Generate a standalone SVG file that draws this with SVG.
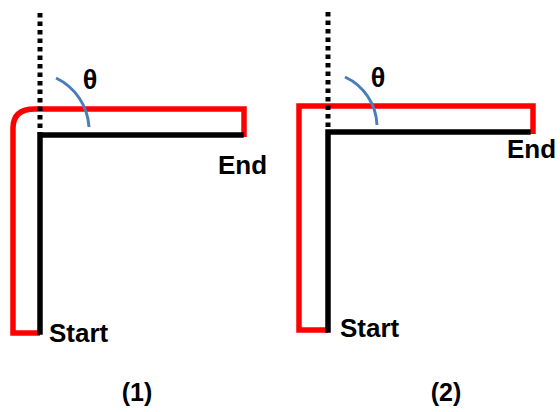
<svg xmlns="http://www.w3.org/2000/svg" width="560" height="412" viewBox="0 0 560 412">
<style>
.red{fill:none;stroke:#FF0000;stroke-width:5.5}
.blk{fill:none;stroke:#000;stroke-width:5.5;stroke-linecap:square}
.dot{fill:none;stroke:#000;stroke-width:5;stroke-dasharray:4.5 4}
.arc{fill:none;stroke:#4A7EBB;stroke-width:3}
.lbl{font-family:"Liberation Sans",Arial,sans-serif;font-weight:bold;font-size:26px;fill:#000}
.par{font-family:"Liberation Sans",Arial,sans-serif;font-weight:bold;font-size:25px;fill:#000}
.th{font-family:"Liberation Sans",Arial,sans-serif;font-weight:bold;font-size:27px;fill:#000}
</style>
<rect width="560" height="412" fill="#fff"/>
<g id="panel1">
  <path class="red" d="M40,333 H13 V128 Q13,109 35,109 H244 V137"/>
  <line class="dot" x1="40" y1="13" x2="40" y2="133"/>
  <path class="blk" d="M40,332 V135 H241"/>
  <path class="arc" d="M56,78 A58 58 0 0 1 89,127"/>
  <text class="th" x="90" y="89" text-anchor="middle">θ</text>
  <text class="lbl" x="218" y="174">End</text>
  <text class="lbl" x="49" y="342">Start</text>
  <text class="par" x="137" y="401" text-anchor="middle">(1)</text>
</g>
<g id="panel2">
  <path class="red" d="M328,330 H299 V106 H533 V134"/>
  <line class="dot" x1="328" y1="12" x2="328" y2="130"/>
  <path class="blk" d="M328,330 V132 H528"/>
  <path class="arc" d="M345,77 A55 55 0 0 1 377,125"/>
  <text class="th" x="378" y="87" text-anchor="middle">θ</text>
  <text class="lbl" x="507" y="158">End</text>
  <text class="lbl" x="340" y="337">Start</text>
  <text class="par" x="446" y="401" text-anchor="middle">(2)</text>
</g>
</svg>
